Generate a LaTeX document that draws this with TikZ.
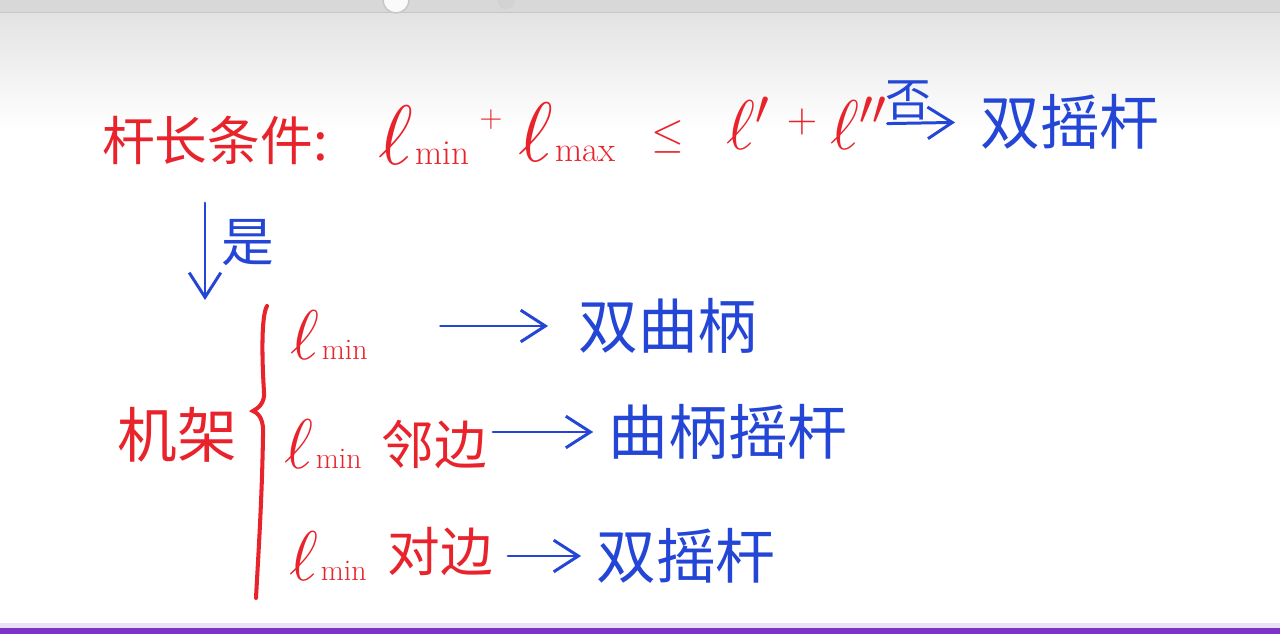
\RequirePackage{fix-cm}
\documentclass[tikz,border=0pt]{standalone}
\usepackage{fontspec}
\newfontfamily\cjk{Noto Sans CJK SC}
\usetikzlibrary{arrows.meta}
\definecolor{pred}{HTML}{E8232B}
\definecolor{pblue}{HTML}{2446D6}
\definecolor{ppurple}{HTML}{7B35C6}
\definecolor{topgray}{HTML}{E3E3E3}
% ell with a small upright word beside it on the same baseline
\newcommand\ellword[2]{$\ell$\kern1.5pt{\fontsize{#2}{#2}\selectfont #1}}
\begin{document}
\begin{tikzpicture}[x=0.02cm,y=-0.02cm,
  redt/.style={text=pred, inner sep=0pt, font=\cjk\fontsize{#1}{#1}\selectfont},
  redt/.default=30pt,
  bluet/.style={text=pblue, inner sep=0pt, font=\cjk\fontsize{#1}{#1}\selectfont},
  bluet/.default=32pt,
  redm/.style={text=pred, inner sep=0pt, font=\fontsize{#1}{#1}\selectfont},
  redm/.default=40pt,
  bluearrow/.style={draw=pblue, line width=1.7pt, line cap=round,
    -{Straight Barb[length=14pt, width=18pt, line width=1.7pt]}},
  redpen/.style={draw=pred, line width=2.3pt, line cap=round}]
\useasboundingbox (0,0) rectangle (1280,634);
% background
\fill[white] (0,0) rectangle (1280,634);
\shade[top color=topgray, bottom color=white] (0,13) rectangle (1280,130);
\fill[topgray!95!black] (0,0) rectangle (1280,12);
\draw[gray!45, line width=0.6pt] (0,12.5) -- (1280,12.5);
\draw[gray!45, fill=white!96!gray, line width=0.8pt] (396,0) circle[radius=13];
\fill[gray!35] (506,0) circle[radius=9];
\fill[ppurple!15] (0,623) rectangle (1280,628);
\fill[ppurple] (0,628) rectangle (1280,634);
% top line
\node[redt=30pt] (t1) at (215,140) {杆长条件:};
\node[redm=48pt, anchor=base west] (lmin) at (378,165) {\ellword{min}{20pt}};
\node[redm=18pt] (p1) at (491,120) {$+$};
\node[redm=48pt, anchor=base west] (lmax) at (518,162) {\ellword{max}{20pt}};
\node[redm=24pt] (le) at (668,137) {$\le$};
\node[redm=40pt, anchor=base west] (lp) at (726,150) {$\ell'$};
\node[redm=24pt] (p2) at (802,122) {$+$};
\node[redm=40pt, anchor=base west] (lpp) at (830,150) {$\ell''$};
\node[bluet=34pt] (sy1) at (1070,122) {双摇杆};
\draw[bluearrow, shorten >=0.5cm] (lpp.east) -- (sy1.west);
\node[bluet=26pt] (fou) at (908,100) {否};
% yes arrow
\coordinate (ya) at (205,203);
\coordinate (yb) at (205,300);
\draw[bluearrow] (ya) -- (yb);
\node[bluet=30pt] (shi) at (248,243) {是};
% frame
\node[redt=34pt] (jj) at (177,435) {机架};
\draw[redpen] (267,306) .. controls (261,316) and (262,360) .. (264,392)
  .. controls (265,402) and (259,408) .. (253,411)
  .. controls (260,414) and (264,421) .. (263,436)
  .. controls (262,500) and (258,560) .. (256,598);
% row 1
\node[redm=40pt, anchor=base west] (r1l) at (290,360) {\ellword{min}{17pt}};
\node[bluet=34pt] (r1r) at (668,326) {双曲柄};
\draw[bluearrow, shorten <=1.45cm, shorten >=0.6cm] (r1l.east |- r1r.west) -- (r1r.west);
% row 2
\node[redm=40pt, anchor=base west] (r2l) at (284,468) {\ellword{min}{17pt}};
\node[redt=30pt] (r2m) at (434,444) {邻边};
\node[bluet=34pt] (r2r) at (728,432) {曲柄摇杆};
\draw[bluearrow, shorten <=0.12cm, shorten >=0.3cm] (r2m.east |- r2r.west) -- (r2r.west);
% row 3
\node[redm=40pt, anchor=base west] (r3l) at (289,580) {\ellword{min}{17pt}};
\node[redt=30pt] (r3m) at (440,552) {对边};
\node[bluet=34pt] (r3r) at (686,556) {双摇杆};
\draw[bluearrow, shorten <=0.3cm, shorten >=0.3cm] (r3m.east |- r3r.west) -- (r3r.west);
\end{tikzpicture}
\end{document}
